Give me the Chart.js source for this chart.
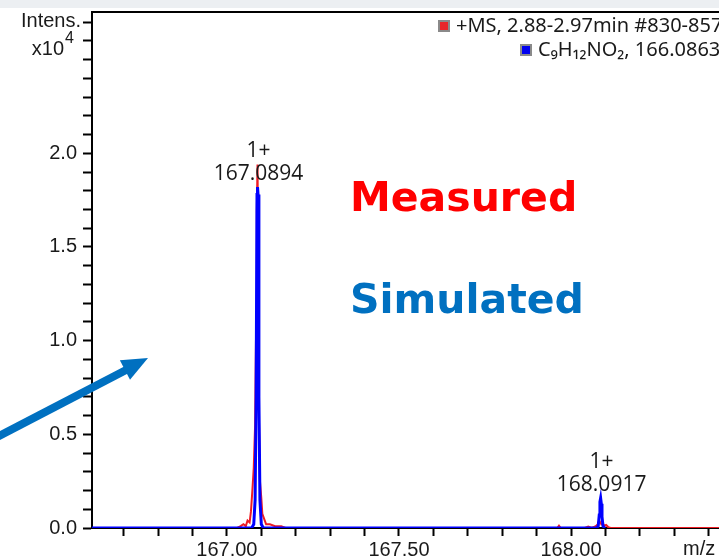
<!DOCTYPE html>
<html>
<head>
<meta charset="utf-8">
<script src="https://cdn.jsdelivr.net/npm/chart.js@4"></script>
<style>
  html, body { margin: 0; padding: 0; background: #fff; }
  #wrap { position: relative; width: 719px; height: 560px; }
</style>
</head>
<body>
<div id="wrap"><canvas id="chart" width="719" height="560"></canvas></div>
<script>
// Spectre mesuré (rouge) : m/z, intensité en x10^4
const mzMeasured = [166.608, 167.030, 167.040, 167.048, 167.055, 167.060, 167.066, 167.070, 167.074, 167.078,
                    167.082, 167.085, 167.087, 167.089, 167.091, 167.093, 167.096, 167.100, 167.103, 167.108,
                    167.114, 167.125, 167.140, 167.158, 167.170, 167.960, 167.965, 167.970, 168.040, 168.050,
                    168.060, 168.072, 168.078, 168.082, 168.085, 168.088, 168.092, 168.097, 168.102, 168.108,
                    168.115, 168.430];
const intMeasured = [0, 0, 0.01, 0.02, 0.01, 0.04, 0.03, 0.09, 0.2, 0.32,
                     0.55, 1.1, 1.7, 1.94, 1.45, 0.6, 0.25, 0.16, 0.075, 0.05,
                     0.02, 0.02, 0.01, 0.01, 0, 0, 0.012, 0, 0, 0.008,
                     0, 0.01, 0.02, 0.04, 0.03, 0.02, 0.025, 0.012, 0.016, 0.005,
                     0, 0];

// Spectre simulé (bleu)
const mzSimulated = [166.608, 167.072, 167.078, 167.082, 167.085, 167.0875, 167.089, 167.0905, 167.093, 167.096,
                     167.100, 167.106, 168.074, 168.079, 168.082, 168.084, 168.086, 168.088, 168.090, 168.093,
                     168.098, 168.100];
const intSimulated = [0, 0, 0.02, 0.15, 0.7, 1.78, 1.82, 1.78, 0.7, 0.15,
                      0.02, 0, 0, 0.01, 0.07, 0.14, 0.16, 0.13, 0.06, 0.01,
                      0, 0];

// Annotations des pics
const peakCharges = ['1+', '1+'];
const peakLabels = ['167.0894', '168.0917'];
const peakMz = [167.089, 168.086];
const peakHeights = [1.82, 0.16];

const xTickLabels = ['167.00', '167.50', '168.00'];
const yTickLabels = ['0.0', '0.5', '1.0', '1.5', '2.0'];

const legendNames = ['+MS, 2.88-2.97min #830-857', 'C\u2089H\u2081\u2082NO\u2082, 166.0863'];
const legendColors = ['#e8262a', '#0000ee'];

const toPoints = (xs, ys) => xs.map((x, i) => ({ x: x, y: ys[i] }));

const stepTicks = (from, to) => {
    const out = [];
    for (let k = Math.round(from * 10); k <= Math.round(to * 10); k++) out.push({ value: k / 10 });
    return out;
};

const decorPlugin = {
    id: 'decor',
    beforeDraw(chart) {
        // bandeau gris en haut
        const ctx = chart.ctx;
        ctx.save();
        ctx.fillStyle = '#eceff2';
        ctx.fillRect(0, 0, chart.width, 8);
        ctx.restore();
    },
    afterDraw(chart) {
        const ctx = chart.ctx;
        const area = chart.chartArea;
        const xs = chart.scales.x, ys = chart.scales.y;
        ctx.save();

        // cadre du haut
        ctx.strokeStyle = '#000';
        ctx.lineWidth = 2;
        ctx.beginPath();
        ctx.moveTo(area.left - 1, area.top);
        ctx.lineTo(area.right, area.top);
        ctx.stroke();

        // titre de l'axe Y
        ctx.fillStyle = '#1a1a1a';
        ctx.textAlign = 'right';
        ctx.textBaseline = 'middle';
        ctx.font = '20px "Liberation Sans", Arial, sans-serif';
        ctx.fillText('Intens.', 81, 21);
        ctx.fillText('x10', 64, 49);
        ctx.font = '16px "Liberation Sans", Arial, sans-serif';
        ctx.textAlign = 'left';
        ctx.fillText('4', 65, 39);

        // m/z
        ctx.font = '20px "Liberation Sans", Arial, sans-serif';
        ctx.textAlign = 'left';
        ctx.textBaseline = 'middle';
        ctx.fillText('m/z', 683, 549);

        // légende
        ctx.font = '20px "Noto Sans", sans-serif';
        ctx.textBaseline = 'middle';
        const legX = [438, 520], legY = [26, 50];
        legendNames.forEach((name, i) => {
            ctx.fillStyle = '#8a8a8a';
            ctx.fillRect(legX[i], legY[i] - 6, 12, 12);
            ctx.fillStyle = legendColors[i];
            ctx.fillRect(legX[i] + 2, legY[i] - 4, 8, 8);
            ctx.fillStyle = '#1a1a1a';
            ctx.fillText(name, legX[i] + 18, legY[i]);
        });

        // étiquettes des pics
        ctx.font = '21px "Open Sans", sans-serif';
        ctx.textAlign = 'center';
        ctx.fillStyle = '#1a1a1a';
        peakMz.forEach((mz, i) => {
            const px = xs.getPixelForValue(mz) + 1;
            const py = ys.getPixelForValue(peakHeights[i]);
            ctx.fillText(peakCharges[i], px, py - 36);
            ctx.fillText(peakLabels[i], px, py - 13);
        });

        // textes Measured / Simulated
        ctx.font = 'bold 41px "DejaVu Sans", sans-serif';
        ctx.textAlign = 'left';
        ctx.fillStyle = '#ff0000';
        ctx.fillText('Measured', 350, 200);
        ctx.fillStyle = '#0070c0';
        ctx.fillText('Simulated', 350, 302);

        // flèche
        ctx.strokeStyle = '#0070c0';
        ctx.fillStyle = '#0070c0';
        ctx.lineWidth = 8;
        ctx.beginPath();
        ctx.moveTo(-5, 438);
        ctx.lineTo(128, 369);
        ctx.stroke();
        const tipX = 148, tipY = 358;
        const ang = Math.atan2(tipY - 435, tipX - 0);
        ctx.beginPath();
        ctx.moveTo(tipX, tipY);
        ctx.lineTo(tipX - 26 * Math.cos(ang) + 11 * Math.sin(ang), tipY - 26 * Math.sin(ang) - 11 * Math.cos(ang));
        ctx.lineTo(tipX - 26 * Math.cos(ang) - 11 * Math.sin(ang), tipY - 26 * Math.sin(ang) + 11 * Math.cos(ang));
        ctx.closePath();
        ctx.fill();
        ctx.restore();
    }
};

new Chart(document.getElementById('chart'), {
    type: 'scatter',
    data: {
        datasets: [
            {
                label: 'Simulated',
                data: toPoints(mzSimulated, intSimulated),
                showLine: true,
                borderColor: '#0000ff',
                borderWidth: 3,
                pointRadius: 0,
                tension: 0,
                order: 0
            },
            {
                label: 'Measured',
                data: toPoints(mzMeasured, intMeasured),
                showLine: true,
                borderColor: '#ee1c24',
                borderWidth: 2,
                pointRadius: 0,
                tension: 0,
                order: 1
            }
        ]
    },
    options: {
        responsive: false,
        animation: false,
        layout: { padding: { top: 12, right: 0, left: 0, bottom: 0 } },
        plugins: { legend: { display: false }, tooltip: { enabled: false } },
        scales: {
            x: {
                type: 'linear',
                min: 166.608,
                max: 168.43,
                afterBuildTicks: scale => { scale.ticks = stepTicks(166.7, 168.4); },
                afterFit: scale => { scale.height = 32; scale.paddingRight = 0; scale.paddingLeft = 0; },
                grid: { drawOnChartArea: false, drawTicks: true, tickLength: 8, tickWidth: 2, tickColor: '#000' },
                border: { color: '#000', width: 2 },
                ticks: {
                    autoSkip: false,
                    maxRotation: 0,
                    padding: 2,
                    color: '#1a1a1a',
                    font: { family: '"Liberation Sans", Arial, sans-serif', size: 20 },
                    callback: value => {
                        const i = xTickLabels.indexOf(value.toFixed(2));
                        return i >= 0 ? xTickLabels[i] : '';
                    }
                }
            },
            y: {
                min: 0,
                max: 2.754,
                afterBuildTicks: scale => { scale.ticks = stepTicks(0, 2.7); },
                afterFit: scale => { scale.width = 92; scale.paddingTop = 0; scale.paddingBottom = 0; },
                grid: { drawOnChartArea: false, drawTicks: true, tickLength: 9, tickWidth: 2, tickColor: '#000' },
                border: { color: '#000', width: 2 },
                ticks: {
                    autoSkip: false,
                    padding: 6,
                    color: '#1a1a1a',
                    font: { family: '"Liberation Sans", Arial, sans-serif', size: 20 },
                    callback: value => {
                        const i = yTickLabels.indexOf(value.toFixed(1));
                        return i >= 0 ? yTickLabels[i] : '';
                    }
                }
            }
        }
    },
    plugins: [decorPlugin]
});
</script>
</body>
</html>
